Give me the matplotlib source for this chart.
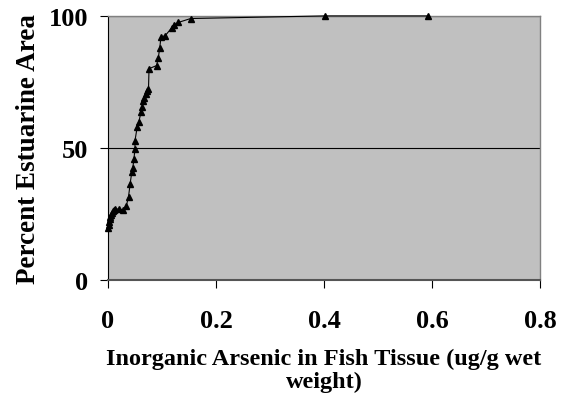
import matplotlib
matplotlib.use("Agg")
import matplotlib.pyplot as plt
import matplotlib.ticker as mticker

# Cumulative distribution of inorganic arsenic (ug/g wet weight)
arsenic = [0.000, 0.001, 0.002, 0.003, 0.004, 0.005, 0.007, 0.009, 0.011, 0.013,
           0.020, 0.028, 0.034, 0.038, 0.041, 0.044, 0.046, 0.048, 0.050, 0.050,
           0.054, 0.057, 0.061, 0.063, 0.065, 0.067, 0.070, 0.073, 0.075, 0.076,
           0.090, 0.093, 0.096, 0.098, 0.106, 0.118, 0.122, 0.130, 0.153,
           0.402, 0.593]
percent = [19.7, 20.8, 21.8, 23.0, 23.8, 24.5, 25.4, 26.0, 26.4, 26.8,
           26.9, 26.6, 28.1, 31.5, 36.4, 40.8, 42.5, 45.8, 49.6, 52.8,
           57.8, 59.7, 63.5, 65.5, 67.9, 69.0, 70.5, 71.5, 72.3, 80.0,
           81.2, 84.0, 88.0, 92.0, 92.5, 95.5, 96.5, 97.5, 99.0,
           100.0, 100.0]

x_ticks = [0, 0.2, 0.4, 0.6, 0.8]
y_ticks = [0, 50, 100]

plt.rcParams["font.family"] = ["Liberation Serif", "DejaVu Serif"]
plt.rcParams["font.weight"] = "bold"

fig = plt.figure(figsize=(5.61, 4.02), dpi=100)
ax = fig.add_axes([0.1925, 0.301, 0.770, 0.657])
ax.set_facecolor("#C0C0C0")

for v in y_ticks[1:]:
    ax.axhline(v, color="black", lw=0.8, zorder=1)

ax.plot(arsenic, percent, color="black", lw=0.8, marker="^", ms=5,
        markeredgecolor="black", markerfacecolor="black", zorder=3, clip_on=False)

ax.set_xlim(0, 0.8)
ax.set_ylim(0, 100)
ax.set_xticks(x_ticks)
ax.set_yticks(y_ticks)
ax.xaxis.set_major_formatter(mticker.FuncFormatter(lambda v, _: "0" if v == 0 else f"{v:g}"))

for side in ("top", "right"):
    ax.spines[side].set_color("#808080")
    ax.spines[side].set_linewidth(1.0)
ax.spines["left"].set_color("black")
ax.spines["left"].set_linewidth(0.8)
ax.spines["bottom"].set_color("#555555")
ax.spines["bottom"].set_linewidth(1.5)

ax.tick_params(axis="both", direction="out", length=6, width=0.8, color="black",
               labelsize=19)
ax.tick_params(axis="x", pad=15)
ax.tick_params(axis="y", pad=8)
for lab in ax.get_xticklabels() + ax.get_yticklabels():
    lab.set_fontweight("bold")

ax.set_ylabel("Percent Estuarine Area", fontsize=19.5, fontweight="bold", labelpad=6)
ax.set_xlabel("Inorganic Arsenic in Fish Tissue (ug/g wet\nweight)",
              fontsize=17.5, fontweight="bold", labelpad=11, linespacing=1.15)

fig.savefig("out.png", dpi=100)
